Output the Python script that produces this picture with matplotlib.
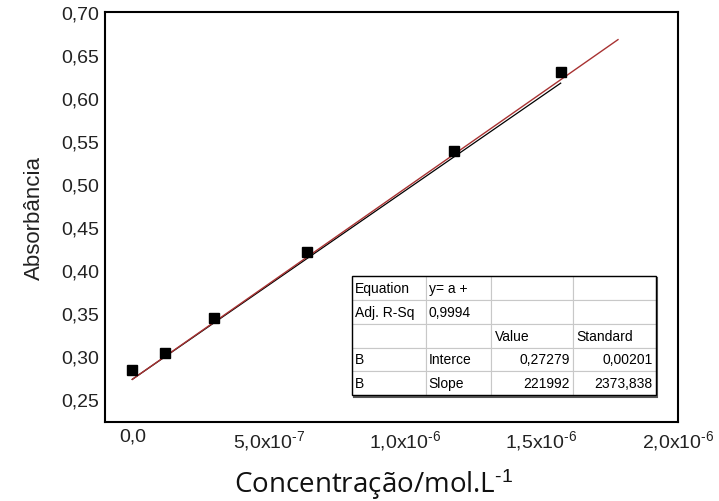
import matplotlib.pyplot as plt
import numpy as np
from matplotlib.patches import Rectangle

plt.rcParams['font.family'] = ['Liberation Sans', 'DejaVu Sans']
plt.rcParams['mathtext.fontset'] = 'custom'
plt.rcParams['mathtext.rm'] = 'Liberation Sans'
plt.rcParams['mathtext.it'] = 'Liberation Sans'

# dados
conc = [0.0, 1.2e-7, 3.0e-7, 6.4e-7, 1.18e-6, 1.57e-6]
absorb = [0.284, 0.304, 0.344, 0.421, 0.538, 0.630]
intercept = 0.27279
slope = 221992
fit_x_max = 1.78e-6

xticks = [0.0, 5e-7, 1e-6, 1.5e-6, 2e-6]
xtick_labels = ['0,0', r'5,0x10$^{\text{-}7}$', r'1,0x10$^{\text{-}6}$',
                r'1,5x10$^{\text{-}6}$', r'2,0x10$^{\text{-}6}$']
yticks = [0.25, 0.30, 0.35, 0.40, 0.45, 0.50, 0.55, 0.60, 0.65, 0.70]
ytick_labels = ['0,25', '0,30', '0,35', '0,40', '0,45', '0,50', '0,55', '0,60', '0,65', '0,70']

table_rows = [
    ['Equation', 'y= a +', '', ''],
    ['Adj. R-Sq', '0,9994', '', ''],
    ['', '', 'Value', 'Standard'],
    ['B', 'Interce', '0,27279', '0,00201'],
    ['B', 'Slope', '221992', '2373,838'],
]


def main():
    fig = plt.figure(figsize=(7.19, 5.02), dpi=100)
    ax = fig.add_axes([0.146, 0.157, 0.797, 0.817])

    x = np.array(conc)
    y = np.array(absorb)

    # reta ajustada (vermelha) e reta preta logo abaixo
    xr = np.array([0.0, fit_x_max])
    ax.plot(xr, intercept + slope * xr, color='#a83232', lw=1.0, zorder=3)
    xb = np.array([x[0], x[-1]])
    ax.plot(xb, intercept + slope * xb - np.array([0.0, 0.004]),
            color='black', lw=0.9, zorder=2)
    ax.plot(x, y, 's', color='black', ms=6.5, zorder=4)

    ax.set_xlim(-1.0e-7, 2.0e-6)
    ax.set_ylim(0.223, 0.70)
    ax.set_xticks(xticks)
    ax.set_xticklabels(xtick_labels)
    ax.set_yticks(yticks)
    ax.set_yticklabels(ytick_labels)
    ax.tick_params(length=0, labelsize=14, colors='#222222', pad=4)
    for s in ax.spines.values():
        s.set_linewidth(1.5)
    ax.set_ylabel('Absorbância', fontsize=16, labelpad=12, color='#222222')
    fig.text(0.52, 0.018, r'Concentração/mol.L$^{\text{-}1}$', fontsize=20,
             family=['Open Sans', 'DejaVu Sans'], ha='center', color='#111111')

    # tabela do ajuste
    bbox = [0.431, 0.066, 0.961 - 0.431, 0.356 - 0.066]
    tab = ax.table(cellText=table_rows, bbox=bbox, colWidths=[74, 65, 82, 82],
                   cellLoc='left', zorder=5)
    tab.auto_set_font_size(False)
    for (r, c), cell in tab.get_celld().items():
        cell.set_edgecolor('#c8c8c8')
        cell.set_linewidth(0.8)
        cell.set_facecolor('white')
        cell.get_text().set_fontsize(10)
        cell.PAD = 0.04
        if r >= 3 and c >= 2:
            cell.get_text().set_horizontalalignment('right')
    ax.add_patch(Rectangle((bbox[0] + 0.003, bbox[1] - 0.005), bbox[2], bbox[3],
                           transform=ax.transAxes, fc='none', ec='#555555', lw=1.5, zorder=4))
    ax.add_patch(Rectangle((bbox[0], bbox[1]), bbox[2], bbox[3],
                           transform=ax.transAxes, fc='none', ec='black', lw=1.0, zorder=6))

    fig.savefig('out.png', dpi=100)


if __name__ == '__main__':
    main()
